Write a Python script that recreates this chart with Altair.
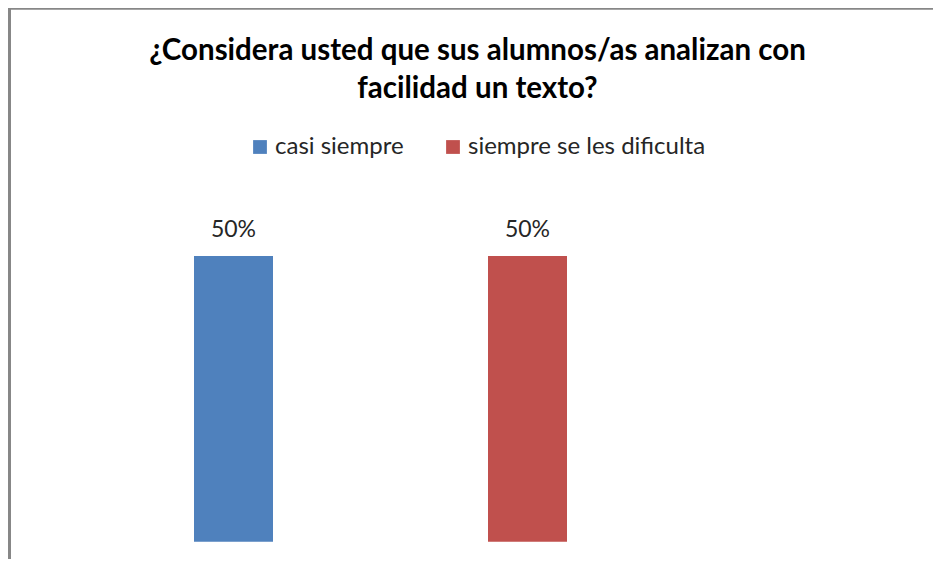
import altair as alt
import pandas as pd

categories = ["casi siempre", "siempre se les dificulta"]
values = [0.5, 0.5]
labels = ["50%", "50%"]
colors = ["#4F81BD", "#C0504D"]
title_lines = ["¿Considera usted que sus alumnos/as analizan con", "facilidad un texto?"]

df = pd.DataFrame({"cat": categories, "val": values, "lab": labels})

W, H = 925, 551
FONT = "Lato"

x_enc = alt.X("cat:N", sort=categories, axis=None,
              scale=alt.Scale(range=[186, 559], paddingInner=0.7313, paddingOuter=0))
y_scale = alt.Scale(domain=[0, 0.5], range=[533.7, 248], zero=True)

bars = alt.Chart(df).mark_bar().encode(
    x=x_enc,
    y=alt.Y("val:Q", axis=None, scale=y_scale),
    color=alt.Color(
        "cat:N", sort=categories,
        scale=alt.Scale(domain=categories, range=colors),
        legend=alt.Legend(
            title=None, orient="none", legendX=240, legendY=127,
            direction="horizontal", symbolType="square", symbolSize=190,
            symbolStrokeWidth=0, labelFont=FONT, labelFontSize=24,
            labelColor="#262626", labelOffset=3, columnPadding=37, padding=0,
            labelLimit=1000,
        ),
    ),
)

text = alt.Chart(df).mark_text(
    baseline="alphabetic", dy=-19, font=FONT, fontSize=23, color="#262626"
).encode(
    x=x_enc,
    y=alt.Y("val:Q", axis=None, scale=y_scale),
    text="lab:N",
)

border_top = alt.Chart(alt.Data(values=[{}])).mark_rule(
    color="#878787", strokeWidth=2.5
).encode(x=alt.value(0), x2=alt.value(W), y=alt.value(0.5))

border_left = alt.Chart(alt.Data(values=[{}])).mark_rule(
    color="#878787", strokeWidth=3
).encode(x=alt.value(1.5), y=alt.value(0), y2=alt.value(H))

chart = alt.layer(border_top, border_left, bars, text).properties(
    width=W, height=H,
    autosize=alt.AutoSizeParams(type="none"),
    padding=0,
    title=alt.TitleParams(
        text=title_lines, font=FONT, fontSize=29.5, fontWeight="bold",
        color="#000000", anchor="middle", frame="group", lineHeight=38,
        offset=-98, dx=7,
    ),
).configure_view(stroke=None)

chart.save("out.html", embed_options={"renderer": "svg", "actions": False})
